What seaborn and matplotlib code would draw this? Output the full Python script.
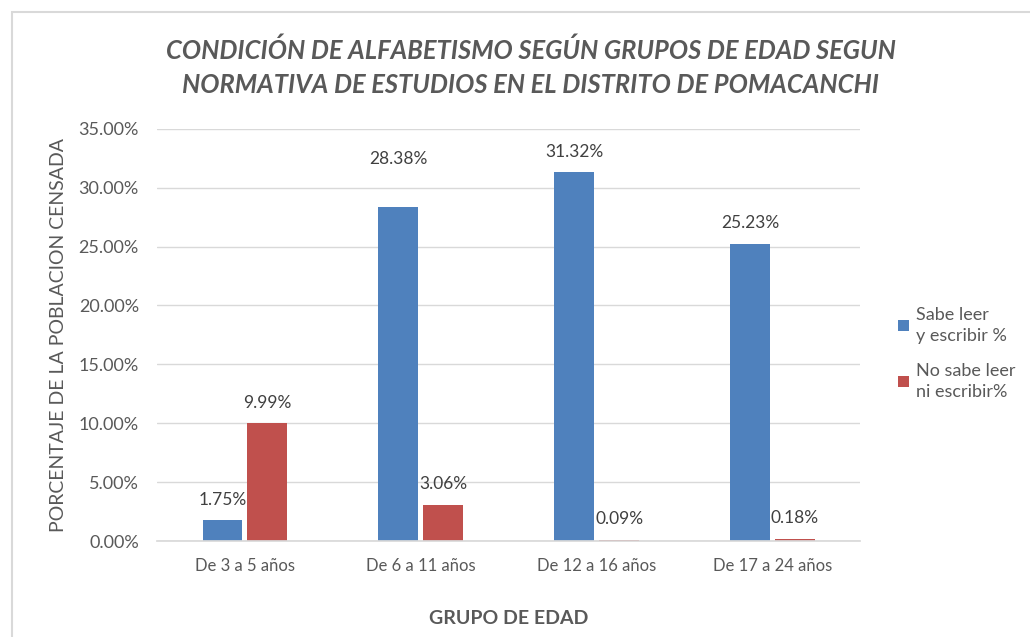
import pandas as pd
import numpy as np
import seaborn as sns
import matplotlib.pyplot as plt
from matplotlib.patches import Rectangle
from matplotlib.ticker import PercentFormatter

# .:: Data ::.
grupos = ["De 3 a 5 años", "De 6 a 11 años", "De 12 a 16 años", "De 17 a 24 años"]
sabe_leer = [1.75, 28.38, 31.32, 25.23]
no_sabe_leer = [9.99, 3.06, 0.09, 0.18]
series = ["Sabe leer\ny escribir %", "No sabe leer\nni escribir%"]

df = pd.DataFrame({
    "grupo": grupos * 2,
    "serie": [series[0]] * 4 + [series[1]] * 4,
    "valor": sabe_leer + no_sabe_leer,
})

# .:: Style ::.
sns.set_theme(style="white")
plt.rcParams["font.family"] = ["Lato", "DejaVu Sans"]
gray = "#595959"

fig = plt.figure(figsize=(10.3, 6.37), dpi=100)
ax = fig.add_axes([0.1524, 0.1507, 0.683, 0.647])

sns.barplot(data=df, x="grupo", y="valor", hue="serie", order=grupos,
            hue_order=series, palette=["#4F81BD", "#C0504D"], saturation=1,
            width=0.51, gap=0.11, linewidth=0, ax=ax, legend=True)

ax.set_ylim(0, 35)
ax.set_yticks(np.arange(0, 36, 5))
ax.yaxis.set_major_formatter(PercentFormatter(decimals=2))
ax.grid(axis="y", color="#D9D9D9", linewidth=1)
ax.set_axisbelow(True)
for s in ["top", "right", "left"]:
    ax.spines[s].set_visible(False)
ax.spines["bottom"].set_color("#D9D9D9")
ax.tick_params(axis="y", length=0, labelsize=13, colors=gray, pad=13)
ax.tick_params(axis="x", length=0, labelsize=12, colors=gray, pad=12)

# data labels (the 28.38% label sits higher in the original)
extra = {(0, 1): 20}
for i, cont in enumerate(ax.containers):
    for j, bar in enumerate(cont):
        v = cont.datavalues[j]
        ax.annotate(f"{v:.2f}%", (bar.get_x() + bar.get_width() / 2, bar.get_height()),
                    xytext=(0, 9 + extra.get((i, j), 0)), textcoords="offset points",
                    ha="center", va="bottom", fontsize=12.5, color="#404040")

ax.set_xlabel("GRUPO DE EDAD", fontsize=14, fontweight="bold", color=gray, labelpad=26)
ax.set_ylabel("PORCENTAJE DE LA POBLACION CENSADA", fontsize=14, color=gray, labelpad=8)

fig.suptitle("CONDICIÓN DE ALFABETISMO SEGÚN GRUPOS DE EDAD SEGUN\n"
             "NORMATIVA DE ESTUDIOS EN EL DISTRITO DE POMACANCHI",
             x=0.515, y=0.895, va="center", fontsize=18.4, fontweight="bold",
             fontstyle="italic", color=gray, linespacing=1.5)

leg = ax.legend(loc="center left", bbox_to_anchor=(1.03, 0.455), frameon=False,
                fontsize=13, handlelength=0.6, handleheight=0.6,
                handletextpad=0.4, labelspacing=1.0, labelcolor=gray)
for t in leg.get_texts():
    t.set_linespacing(1.45)

# outer chart border
fig.add_artist(Rectangle((12 / 1030, -0.01), 1.1, 1 - 12 / 637 + 0.01,
                         transform=fig.transFigure, fill=False,
                         edgecolor="#D9D9D9", linewidth=1.5))

fig.savefig("out.png", dpi=100, facecolor="white")
